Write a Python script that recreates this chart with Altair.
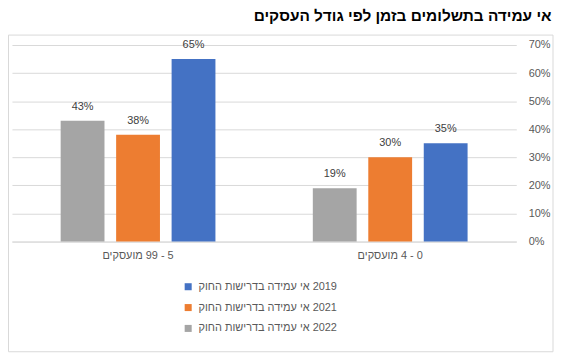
import altair as alt
import pandas as pd

RLM = "\u200f"

title_text = "אי עמידה בתשלומים בזמן לפי גודל העסקים"
categories = ["0 - 4 מועסקים", "5 - 99 מועסקים"]
series = ["2019 אי עמידה בדרישות החוק", "2021 אי עמידה בדרישות החוק", "2022 אי עמידה בדרישות החוק"]
values_2019 = [0.35, 0.65]
values_2021 = [0.30, 0.38]
values_2022 = [0.19, 0.43]
colors = ["#4472C4", "#ED7D31", "#A5A5A5"]
y_ticks = [0, 0.1, 0.2, 0.3, 0.4, 0.5, 0.6, 0.7]

rows = []
for s, vals in zip(series, [values_2019, values_2021, values_2022]):
    for c, v in zip(categories, vals):
        rows.append({"category": RLM + c, "series": RLM + s, "value": v})
df = pd.DataFrame(rows)

cat_order = [RLM + c for c in reversed(categories)]
ser_order = [RLM + s for s in series]
offset_order = list(reversed(ser_order))

FONT = "Liberation Sans"

x_axis = alt.Axis(title=None, labelAngle=0, ticks=False, domainColor="#d9d9d9",
                  labelPadding=8, labelFontSize=11, labelColor="#595959",
                  labelFont=FONT, grid=False)
y_axis = alt.Axis(title=None, orient="right", format=".0%", values=y_ticks,
                  domain=False, ticks=False, labelPadding=12, labelOverlap=False,
                  labelFontSize=11, labelColor="#595959", labelFont=FONT,
                  grid=True, gridColor="#d9d9d9", labelBaseline="middle")
x_scale = alt.Scale(paddingInner=0.34, paddingOuter=0.17)
xo_scale = alt.Scale(paddingInner=0.21, paddingOuter=0.105)
y_scale = alt.Scale(domain=[0, 0.7])

base = alt.Chart(df)

bars = base.mark_bar().encode(
    x=alt.X("category:N", sort=cat_order, scale=x_scale, axis=x_axis),
    xOffset=alt.XOffset("series:N", sort=offset_order, scale=xo_scale),
    y=alt.Y("value:Q", scale=y_scale, axis=y_axis),
    color=alt.Color("series:N", sort=ser_order,
                    scale=alt.Scale(domain=ser_order, range=colors),
                    legend=alt.Legend(title=None, orient="none", legendX=172, legendY=238,
                                      direction="vertical", symbolType="square",
                                      symbolSize=50, symbolStrokeWidth=0,
                                      labelFontSize=11, labelColor="#595959",
                                      labelFont=FONT, rowPadding=9, labelOffset=5)),
)

labels = base.mark_text(baseline="bottom", dy=-9, fontSize=11, color="#404040", font=FONT).encode(
    x=alt.X("category:N", sort=cat_order, scale=x_scale, axis=x_axis),
    xOffset=alt.XOffset("series:N", sort=offset_order, scale=xo_scale),
    y=alt.Y("value:Q", scale=y_scale, axis=y_axis),
    text=alt.Text("value:Q", format=".0%"),
)

border = alt.Chart(alt.Data(values=[{}])).mark_rect(filled=False, stroke="#d9d9d9", strokeWidth=1).encode(
    x=alt.value(-3.5), x2=alt.value(545), y=alt.value(-10), y2=alt.value(309)
)

chart = alt.layer(border, bars, labels).properties(
    width=508, height=198,
    title=alt.TitleParams(title_text, anchor="end", dx=-2, offset=10, fontSize=15.5,
                          fontWeight="bold", font=FONT, color="#000000"),
    autosize=alt.AutoSizeParams(type="none"),
    padding={"left": 4, "top": 36, "right": 38, "bottom": 112},
).configure_view(stroke=None)

chart.save("out.html", embed_options={"renderer": "svg", "actions": False})
